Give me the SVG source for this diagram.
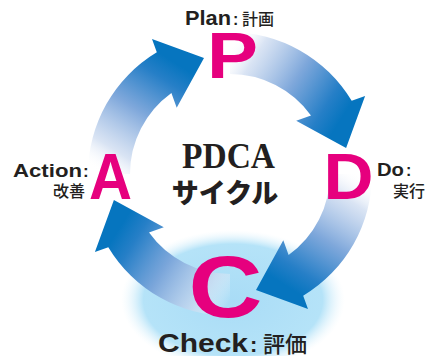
<svg xmlns="http://www.w3.org/2000/svg" width="426" height="356" viewBox="0 0 426 356">
  <defs>
    <radialGradient id="glowGrad" cx="0.5" cy="0.5" r="0.5">
      <stop offset="0" stop-color="#a9dcf6"/>
      <stop offset="0.8" stop-color="#b5e3f8"/>
      <stop offset="1" stop-color="#eaf7fd" stop-opacity="0"/>
    </radialGradient>
    <linearGradient id="arrowGrad" gradientUnits="userSpaceOnUse" x1="-121" y1="4" x2="-50" y2="-108">
      <stop offset="0" stop-color="#ffffff" stop-opacity="0"/>
      <stop offset="0.2" stop-color="#cddbf0" stop-opacity="0.75"/>
      <stop offset="0.55" stop-color="#78a3d9" stop-opacity="0.95"/>
      <stop offset="0.85" stop-color="#267fc7"/>
      <stop offset="1" stop-color="#0675bf"/>
    </linearGradient>
    <path id="arrow" d="M -100 0 L -142 0 A 142 142 0 0 1 -73.2 -121.7 L -78 -135.1 L -26 -116.1 L -53.3 -66.2 L -58.6 -81 A 100 100 0 0 0 -100 0 Z" fill="url(#arrowGrad)"/>
  </defs>
  <style>
    .big { font-family: "Liberation Sans", Arial, sans-serif; font-weight: bold; fill: #e6007e; text-anchor: middle; }
    .lab { font-family: "Liberation Sans", Arial, sans-serif; font-weight: bold; fill: #231f20; }
    .jp { font-family: "Noto Sans CJK JP", sans-serif; font-weight: 500; fill: #231f20; }
  </style>
  <rect width="426" height="356" fill="#ffffff"/>
  <g id="glow">
    <ellipse cx="233" cy="300" rx="112" ry="70" fill="url(#glowGrad)"/>
  </g>
  <g id="connectors" transform="translate(230,174)">
    <use href="#arrow"/>
    <use href="#arrow" transform="rotate(90)"/>
    <use href="#arrow" transform="rotate(180)"/>
    <use href="#arrow" transform="rotate(270)"/>
  </g>
  <g id="title">
    <text x="228.5" y="168" font-family="'Liberation Serif', 'Times New Roman', serif" font-weight="bold" font-size="35" fill="#231f20" text-anchor="middle" textLength="93" lengthAdjust="spacingAndGlyphs">PDCA</text>
    <text x="225" y="203" font-family="'Noto Sans CJK JP', sans-serif" font-weight="900" font-size="27" fill="#231f20" text-anchor="middle">サイクル</text>
  </g>
  <g id="node-P">
    <text class="big" x="232.5" y="78" font-size="64" textLength="51" lengthAdjust="spacingAndGlyphs">P</text>
    <text class="lab" x="185" y="25" font-size="20" textLength="46" lengthAdjust="spacingAndGlyphs">Plan</text>
    <text class="lab" x="233" y="25" font-size="16">:</text>
    <text class="jp" x="242" y="25" font-size="16">計画</text>
  </g>
  <g id="node-D">
    <text class="big" x="348.5" y="199" font-size="64" textLength="50" lengthAdjust="spacingAndGlyphs">D</text>
    <text class="lab" x="377" y="176" font-size="18" textLength="27" lengthAdjust="spacingAndGlyphs">Do</text>
    <text class="lab" x="406" y="176" font-size="16">:</text>
    <text class="jp" x="393" y="197" font-size="16">実行</text>
  </g>
  <g id="node-C">
    <text class="big" x="225.5" y="317" font-size="88" textLength="74" lengthAdjust="spacingAndGlyphs">C</text>
    <text class="lab" x="158" y="352" font-size="26" textLength="90" lengthAdjust="spacingAndGlyphs">Check</text>
    <text class="lab" x="250" y="352" font-size="22">:</text>
    <text class="jp" x="263" y="352" font-size="22">評価</text>
  </g>
  <g id="node-A">
    <text class="big" x="110.5" y="199" font-size="64" textLength="43" lengthAdjust="spacingAndGlyphs">A</text>
    <text class="lab" x="13" y="177" font-size="19" textLength="69" lengthAdjust="spacingAndGlyphs">Action</text>
    <text class="lab" x="83" y="177" font-size="17">:</text>
    <text class="jp" x="53" y="197" font-size="16">改善</text>
  </g>
</svg>
